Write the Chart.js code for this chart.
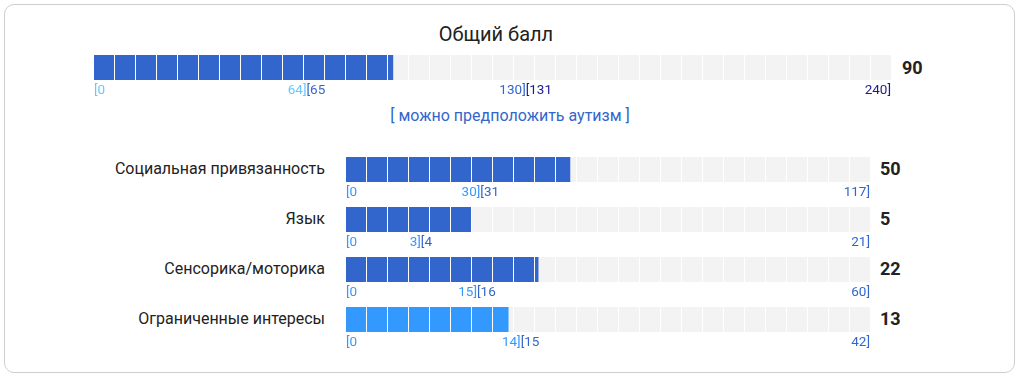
<!DOCTYPE html>
<html>
<head>
<meta charset="utf-8">
<script src="https://cdn.jsdelivr.net/npm/chart.js@4/dist/chart.umd.min.js"></script>
<style>
  html, body { margin: 0; padding: 0; background: #fff; }
  body { width: 1022px; height: 378px; position: relative; overflow: hidden; font-family: Roboto, "Noto Sans", sans-serif; }
  #card { position: absolute; left: 4px; top: 4px; width: 1011px; height: 369px; border: 1px solid #cfcfcf; border-radius: 10px; box-sizing: border-box; }
  .abs { position: absolute; white-space: nowrap; }
  .title { left: 0; width: 992px; text-align: center; top: 23px; font-size: 20px; line-height: 22px; color: #222; }
  .verdict { left: 0; width: 1020px; text-align: center; top: 105px; font-size: 16px; line-height: 22px; color: #3366cc; }
  .val { font-size: 18px; font-weight: bold; line-height: 20px; color: #222; }
  .cat { right: 697px; text-align: right; font-size: 16px; line-height: 20px; color: #222; }
  .chartbox { position: absolute; }
  .chartbox canvas { display: block; }
</style>
</head>
<body>
<div id="card"></div>
<div id="root"></div>
<script>
// ---- data ----
const totalTitle = "Общий балл";
const totalValue = 90;
const totalRanges = [[0, 64], [65, 130], [131, 240]];
const totalVerdict = "[ можно предположить аутизм ]";

const subscaleNames = ["Социальная привязанность", "Язык", "Сенсорика/моторика", "Ограниченные интересы"];
const subscaleValues = [50, 5, 22, 13];
const subscaleRanges = [
  [[0, 30], [31, 117]],
  [[0, 3], [4, 21]],
  [[0, 15], [16, 60]],
  [[0, 14], [15, 42]]
];

// ---- styles ----
const totalRangeColors = ["#66c8ff", "#3366cc", "#1c1c8f"];
const subRangeColors = ["#3399ff", "#3366cc"];
const trackColor = "#f3f3f3";
const SEGMENT_PX = 21;

Chart.defaults.font.family = "Roboto, 'Noto Sans', sans-serif";
Chart.defaults.animation = false;

const root = document.getElementById('root');

function addText(cls, text, styleObj) {
  const d = document.createElement('div');
  d.className = 'abs ' + cls;
  d.textContent = text;
  Object.assign(d.style, styleObj || {});
  root.appendChild(d);
  return d;
}

const rangeLabelPlugin = {
  id: 'rangeLabels',
  afterDraw(chart, args, opts) {
    const x = chart.scales.x;
    const ctx = chart.ctx;
    const ranges = opts.ranges, colors = opts.colors;
    const y = chart.chartArea.bottom + 10.5;
    ctx.save();
    ctx.font = "13.5px Roboto, 'Noto Sans', sans-serif";
    ctx.textBaseline = 'middle';
    ranges.forEach((r, i) => {
      const startPx = i === 0 ? x.getPixelForValue(r[0]) : x.getPixelForValue(ranges[i - 1][1]);
      const endPx = x.getPixelForValue(r[1]);
      ctx.fillStyle = colors[i];
      ctx.textAlign = 'left';
      ctx.fillText('[' + r[0], startPx, y);
      ctx.textAlign = 'right';
      ctx.fillText(r[1] + ']', endPx, y);
    });
    ctx.restore();
  }
};

function makeBar(left, top, width, value, ranges, colors) {
  const box = document.createElement('div');
  box.className = 'chartbox';
  Object.assign(box.style, { left: left + 'px', top: top + 'px', width: width + 'px', height: '45px' });
  const cv = document.createElement('canvas');
  box.appendChild(cv);
  root.appendChild(box);
  const max = ranges[ranges.length - 1][1];
  let idx = ranges.findIndex(r => value >= r[0] && value <= r[1]);
  if (idx < 0) idx = 0;
  new Chart(cv, {
    type: 'bar',
    data: {
      labels: [''],
      datasets: [
        { data: [value], backgroundColor: colors[idx], order: 0, grouped: false, barPercentage: 1, categoryPercentage: 1 },
        { data: [max], backgroundColor: trackColor, order: 1, grouped: false, barPercentage: 1, categoryPercentage: 1 }
      ]
    },
    options: {
      indexAxis: 'y',
      responsive: true,
      maintainAspectRatio: false,
      devicePixelRatio: 1,
      layout: { padding: { left: 0, right: 0, top: 0, bottom: 20 } },
      plugins: { legend: { display: false }, tooltip: { enabled: false }, rangeLabels: { ranges, colors } },
      scales: {
        x: {
          min: 0, max: max,
          border: { display: false },
          grid: { color: '#ffffff', lineWidth: 1, drawTicks: false, z: 1 },
          ticks: { display: false },
          afterBuildTicks(axis) {
            const n = Math.max(1, Math.round(axis.chart.width / SEGMENT_PX));
            const t = [];
            for (let i = 1; i < n; i++) t.push({ value: max * i / n });
            axis.ticks = t;
          }
        },
        y: { display: false }
      }
    },
    plugins: [rangeLabelPlugin]
  });
}

// Title and total
addText('title', totalTitle);
makeBar(94, 55, 797, totalValue, totalRanges, totalRangeColors);
addText('val', String(totalValue), { left: '902px', top: '58px' });
addText('verdict', totalVerdict);

// Subscales
subscaleNames.forEach((name, i) => {
  const top = 157 + i * 50;
  addText('cat', name, { top: (top + 2) + 'px' });
  makeBar(346, top, 524, subscaleValues[i], subscaleRanges[i], subRangeColors);
  addText('val', String(subscaleValues[i]), { left: '880px', top: (top + 2) + 'px' });
});
</script>
</body>
</html>
